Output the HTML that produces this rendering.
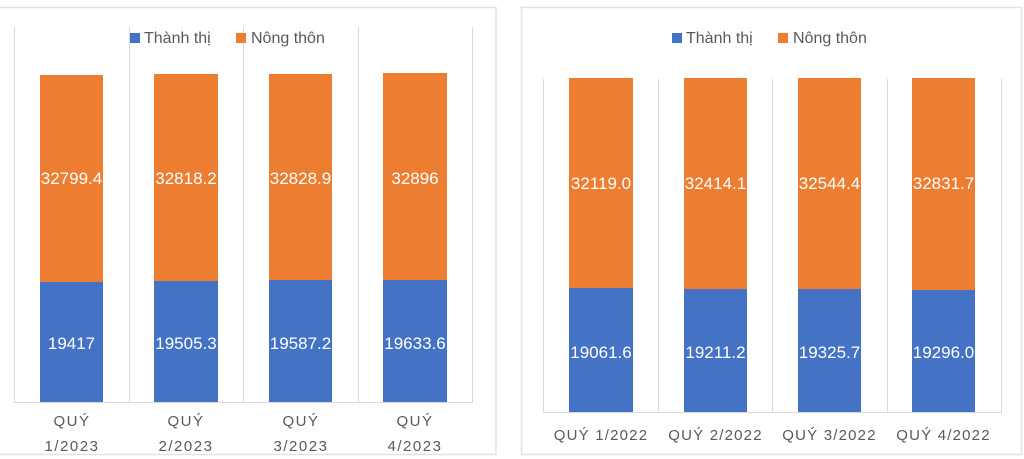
<!DOCTYPE html>
<html><head><meta charset="utf-8"><style>
html,body{margin:0;padding:0;background:#fff;width:1024px;height:459px;overflow:hidden}
text{font-family:"Liberation Sans",sans-serif}
</style></head><body>
<svg width="1024" height="459" viewBox="0 0 1024 459">
<rect x="0" y="0" width="1024" height="459" fill="#fff"/>
<!-- panels -->
<rect x="-2" y="7.5" width="498" height="447" fill="#fff" stroke="#e3e3e3" stroke-width="1.5"/>
<rect x="521.5" y="7.5" width="500" height="447" fill="#fff" stroke="#e3e3e3" stroke-width="1.5"/>
<g stroke="#d9d9d9" stroke-width="1">
<line x1="14.5" y1="27" x2="14.5" y2="402"/><line x1="129.5" y1="27" x2="129.5" y2="402"/><line x1="243.5" y1="27" x2="243.5" y2="402"/><line x1="358.5" y1="27" x2="358.5" y2="402"/><line x1="472.5" y1="27" x2="472.5" y2="402"/>
<line x1="14" y1="402.5" x2="473" y2="402.5"/>
<line x1="543.5" y1="79" x2="543.5" y2="412"/><line x1="658.5" y1="79" x2="658.5" y2="412"/><line x1="772.5" y1="79" x2="772.5" y2="412"/><line x1="887.5" y1="79" x2="887.5" y2="412"/><line x1="1001.5" y1="79" x2="1001.5" y2="412"/>
<line x1="543" y1="412.5" x2="1002" y2="412.5"/>
</g>
<!-- legend left -->
<rect x="0" y="25" width="496" height="26" fill="none"/>
<rect x="130" y="33" width="10" height="10" fill="#4472c4"/>
<text x="144" y="43" font-size="16" fill="#595959">Thành thị</text>
<rect x="236" y="33" width="10" height="10" fill="#ed7d31"/>
<text x="251" y="43" font-size="16" fill="#595959">Nông thôn</text>
<!-- legend right -->
<rect x="672" y="33" width="10" height="10" fill="#4472c4"/>
<text x="686" y="43" font-size="16" fill="#595959">Thành thị</text>
<rect x="778" y="33" width="10" height="10" fill="#ed7d31"/>
<text x="793" y="43" font-size="16" fill="#595959">Nông thôn</text>
<!-- left bars -->
<g>
<rect x="40" y="75" width="63" height="207" fill="#ed7d31"/><rect x="40" y="282" width="63" height="120" fill="#4472c4"/>
<rect x="154" y="74" width="64" height="207" fill="#ed7d31"/><rect x="154" y="281" width="64" height="121" fill="#4472c4"/>
<rect x="269" y="74" width="63" height="206" fill="#ed7d31"/><rect x="269" y="280" width="63" height="122" fill="#4472c4"/>
<rect x="383" y="73" width="64" height="207" fill="#ed7d31"/><rect x="383" y="280" width="64" height="122" fill="#4472c4"/>
</g>
<g font-size="17" fill="#fff" text-anchor="middle">
<text x="71.5" y="184">32799.4</text><text x="186" y="184">32818.2</text><text x="300.5" y="184">32828.9</text><text x="415" y="184">32896</text>
<text x="71.5" y="349">19417</text><text x="186" y="349">19505.3</text><text x="300.5" y="349">19587.2</text><text x="415" y="349">19633.6</text>
</g>
<g font-size="15" fill="#595959" text-anchor="middle" letter-spacing="1.5">
<text x="72" y="426">QUÝ</text><text x="72" y="451">1/2023</text>
<text x="186" y="426">QUÝ</text><text x="186" y="451">2/2023</text>
<text x="301" y="426">QUÝ</text><text x="301" y="451">3/2023</text>
<text x="415" y="426">QUÝ</text><text x="415" y="451">4/2023</text>
</g>
<!-- right bars -->
<g>
<rect x="569" y="78" width="64" height="210" fill="#ed7d31"/><rect x="569" y="288" width="64" height="124" fill="#4472c4"/>
<rect x="684" y="78" width="63" height="211" fill="#ed7d31"/><rect x="684" y="289" width="63" height="123" fill="#4472c4"/>
<rect x="798" y="78" width="63" height="211" fill="#ed7d31"/><rect x="798" y="289" width="63" height="123" fill="#4472c4"/>
<rect x="912" y="78" width="63" height="212" fill="#ed7d31"/><rect x="912" y="290" width="63" height="122" fill="#4472c4"/>
</g>
<g font-size="17" fill="#fff" text-anchor="middle">
<text x="601" y="189">32119.0</text><text x="715.5" y="189">32414.1</text><text x="829.5" y="189">32544.4</text><text x="943.5" y="189">32831.7</text>
<text x="601" y="358">19061.6</text><text x="715.5" y="358">19211.2</text><text x="829.5" y="358">19325.7</text><text x="943.5" y="358">19296.0</text>
</g>
<g font-size="15" fill="#595959" text-anchor="middle" letter-spacing="1.2">
<text x="601" y="440">QUÝ 1/2022</text><text x="715.5" y="440">QUÝ 2/2022</text><text x="829.5" y="440">QUÝ 3/2022</text><text x="943.5" y="440">QUÝ 4/2022</text>
</g>
</svg>
</body></html>
